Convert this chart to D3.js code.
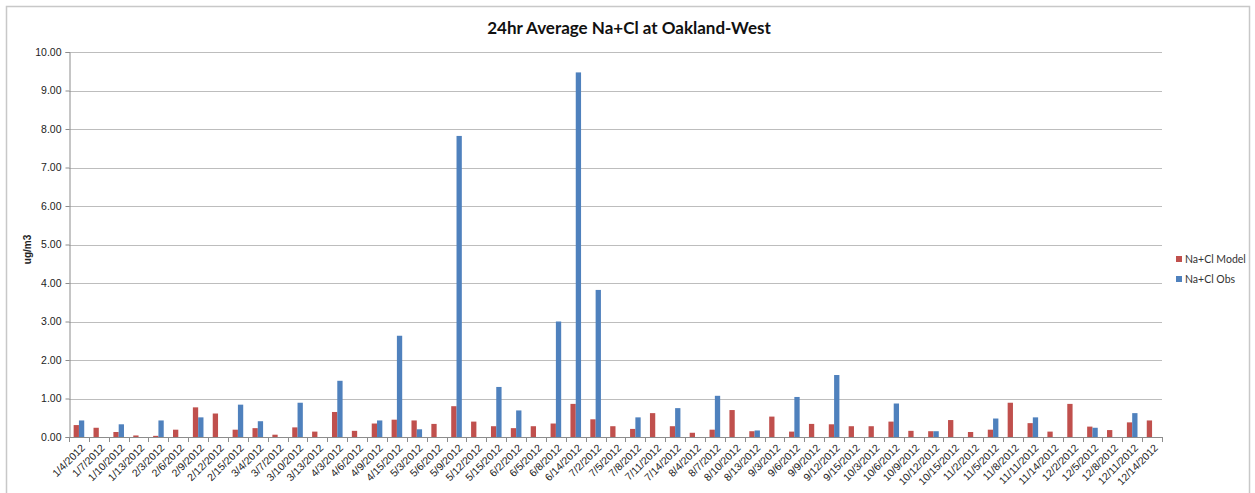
<!DOCTYPE html>
<html>
<head>
<meta charset="utf-8">
<script src="https://cdn.jsdelivr.net/npm/d3@7"></script>
<style>
  html, body { margin: 0; padding: 0; background: #fff; }
  svg { display: block; }
</style>
</head>
<body>
<svg id="chart" width="1255" height="493"></svg>
<script>
// 24hr Average Na+Cl at Oakland-West
const dates = ['1/4/2012', '1/7/2012', '1/10/2012', '1/13/2012', '2/3/2012', '2/6/2012', '2/9/2012',
  '2/12/2012', '2/15/2012', '3/4/2012', '3/7/2012', '3/10/2012', '3/13/2012', '4/3/2012', '4/6/2012',
  '4/9/2012', '4/15/2012', '5/3/2012', '5/6/2012', '5/9/2012', '5/12/2012', '5/15/2012', '6/2/2012',
  '6/5/2012', '6/8/2012', '6/14/2012', '7/2/2012', '7/5/2012', '7/8/2012', '7/11/2012', '7/14/2012',
  '8/4/2012', '8/7/2012', '8/10/2012', '8/13/2012', '9/3/2012', '9/6/2012', '9/9/2012', '9/12/2012',
  '9/15/2012', '10/3/2012', '10/6/2012', '10/9/2012', '10/12/2012', '10/15/2012', '11/2/2012',
  '11/5/2012', '11/8/2012', '11/11/2012', '11/14/2012', '12/2/2012', '12/5/2012', '12/8/2012',
  '12/11/2012', '12/14/2012'];

const modelValues = [0.31, 0.24, 0.13, 0.04, 0.03, 0.19, 0.77, 0.61, 0.19, 0.23, 0.06, 0.25, 0.14, 0.65,
  0.16, 0.35, 0.45, 0.43, 0.34, 0.80, 0.40, 0.28, 0.23, 0.28, 0.35, 0.86, 0.46, 0.28, 0.21, 0.62, 0.28,
  0.11, 0.19, 0.70, 0.15, 0.53, 0.14, 0.34, 0.33, 0.28, 0.28, 0.40, 0.16, 0.15, 0.44, 0.13, 0.19, 0.89,
  0.36, 0.14, 0.86, 0.27, 0.18, 0.38, 0.43];

// null = no observation that day
const obsValues = [0.43, null, 0.33, null, 0.43, null, 0.51, null, 0.84, 0.41, null, 0.89, null, 1.46,
  null, 0.43, 2.63, 0.20, null, 7.82, null, 1.30, 0.69, null, 3.00, 9.47, 3.82, null, 0.51, null, 0.75,
  null, 1.07, null, 0.17, null, 1.04, null, 1.61, null, null, 0.87, null, 0.15, null, null, 0.48, null,
  0.51, null, null, 0.24, null, 0.62, null];

const yTicks = [0, 1, 2, 3, 4, 5, 6, 7, 8, 9, 10];
const seriesNames = ['Na+Cl Model', 'Na+Cl Obs'];
const seriesColors = ['#C0504D', '#4F81BD'];

const svg = d3.select('#chart');
const margin = { left: 69, right: 1162, top: 52, bottom: 437 };

// outer frame
svg.append('rect')
  .attr('x', 6.5).attr('y', 6.5)
  .attr('width', 1243).attr('height', 500)
  .attr('fill', '#fff')
  .attr('stroke', '#c8c8c8')
  .attr('stroke-width', 1.5);

const x0 = d3.scaleBand().domain(dates).range([margin.left, margin.right]).paddingInner(0).paddingOuter(0);
const x1 = d3.scaleBand().domain([0, 1]).range([0, x0.bandwidth()]).paddingInner(0).paddingOuter(0.875);
const y = d3.scaleLinear().domain([0, 10]).range([margin.bottom, margin.top]);

// gridlines
svg.append('g')
  .selectAll('line')
  .data(yTicks.filter(d => d > 0))
  .join('line')
  .attr('x1', margin.left).attr('x2', margin.right)
  .attr('y1', d => Math.round(y(d)) + 0.5).attr('y2', d => Math.round(y(d)) + 0.5)
  .attr('stroke', '#bdbdbd')
  .attr('stroke-width', 1);

// bars
const rows = dates.map((d, i) => ({ date: d, vals: [modelValues[i], obsValues[i]] }));
const groups = svg.append('g')
  .selectAll('g')
  .data(rows)
  .join('g')
  .attr('transform', d => `translate(${x0(d.date)},0)`);

groups.selectAll('rect')
  .data(d => d.vals.map((v, k) => ({ k, v })).filter(e => e.v != null))
  .join('rect')
  .attr('x', e => x1(e.k))
  .attr('width', x1.bandwidth())
  .attr('y', e => y(e.v))
  .attr('height', e => y(0) - y(e.v))
  .attr('fill', e => seriesColors[e.k]);

// y axis
const yAxis = d3.axisLeft(y).tickValues(yTicks).tickSize(4).tickFormat(d3.format('.2f'));
const gy = svg.append('g')
  .attr('transform', `translate(${margin.left + 0.5},0)`)
  .call(yAxis);
gy.select('.domain').attr('stroke', '#8c8c8c');
gy.selectAll('.tick line').attr('stroke', '#8c8c8c');
gy.selectAll('.tick text')
  .attr('x', -8)
  .attr('fill', '#222')
  .style('font-family', 'Liberation Sans, Arial, sans-serif')
  .style('font-size', '10.5px');

// x axis: ticks at category boundaries
svg.append('line')
  .attr('x1', margin.left).attr('x2', margin.right)
  .attr('y1', margin.bottom + 0.5).attr('y2', margin.bottom + 0.5)
  .attr('stroke', '#8c8c8c');
svg.append('g')
  .selectAll('line')
  .data(dates.concat(['end']))
  .join('line')
  .attr('x1', (d, i) => Math.round(margin.left + i * x0.step()) + 0.5)
  .attr('x2', (d, i) => Math.round(margin.left + i * x0.step()) + 0.5)
  .attr('y1', margin.bottom).attr('y2', margin.bottom + 5)
  .attr('stroke', '#8c8c8c');

svg.append('g')
  .selectAll('text')
  .data(dates)
  .join('text')
  .attr('transform', d => `translate(${x0(d) + x0.bandwidth() / 2 + 4},${margin.bottom + 9}) rotate(-45)`)
  .attr('text-anchor', 'end')
  .attr('dy', '0.35em')
  .attr('fill', '#222')
  .style('font-family', 'Liberation Sans, Arial, sans-serif')
  .style('font-size', '10.5px')
  .text(d => d);

// y axis title
svg.append('text')
  .attr('transform', `translate(31,${(margin.top + margin.bottom) / 2 + 5}) rotate(-90)`)
  .attr('text-anchor', 'middle')
  .attr('fill', '#222')
  .style('font-family', 'Liberation Sans, Arial, sans-serif')
  .style('font-size', '10px')
  .style('font-weight', 'bold')
  .text('ug/m3');

// title
svg.append('text')
  .attr('x', 629)
  .attr('y', 34)
  .attr('text-anchor', 'middle')
  .attr('fill', '#111')
  .style('font-family', 'Lato, "Open Sans", sans-serif')
  .style('font-size', '17px')
  .style('font-weight', 'bold')
  .text('24hr Average Na+Cl at Oakland-West');

// legend
const legend = svg.append('g')
  .selectAll('g')
  .data(seriesNames)
  .join('g')
  .attr('transform', (d, i) => `translate(1176,${256 + i * 20})`);
legend.append('rect')
  .attr('width', 6).attr('height', 6)
  .attr('fill', (d, i) => seriesColors[i]);
legend.append('text')
  .attr('x', 9).attr('y', 3)
  .attr('dy', '0.35em')
  .attr('fill', '#333')
  .style('font-family', 'Lato, "Open Sans", sans-serif')
  .style('font-size', '10.5px')
  .text(d => d);
</script>
</body>
</html>
